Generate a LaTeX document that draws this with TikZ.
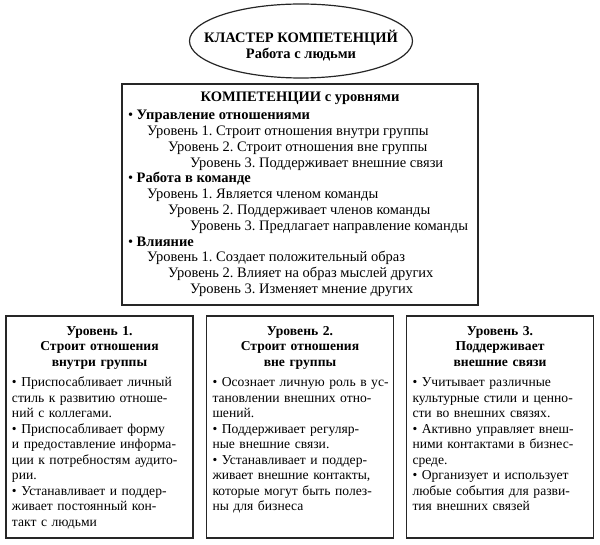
\documentclass[tikz,border=0pt]{standalone}
\usepackage{fontspec}
\setmainfont{Liberation Serif}
\usetikzlibrary{positioning,shapes.geometric}
\frenchspacing
\newlength{\bodywd}
\setlength{\bodywd}{175pt}
% one justified line of a level box
\newcommand{\jline}[1]{\makebox[\bodywd][s]{#1}\\}
\newcommand{\lvlhead}[1]{\makebox[\bodywd]{\bfseries #1}\\}

\begin{document}
\begin{tikzpicture}[x=1pt, y=-1pt,
    cluster/.style={ellipse, draw=black!85, line width=1.2pt, minimum width=223pt,
                    minimum height=74pt, inner sep=0pt},
    panel/.style={rectangle, draw=black!85, line width=1.5pt},
    lvltext/.style={text width=\bodywd, inner sep=0pt, align=left,
                    font=\fontsize{13.6}{15.5}\selectfont}
  ]
  \useasboundingbox (0,0) rectangle (600,545);

  \node[cluster] (clust) at (301,41) {};
  \node[align=center, font=\fontsize{14.5}{16}\selectfont\bfseries] (clustTxt)
        at (301,46) {КЛАСТЕР КОМПЕТЕНЦИЙ\\ Работа с людьми};

  \node[panel, minimum width=356pt, minimum height=221pt,
        inner sep=0pt, align=left, font=\fontsize{14.5}{15.8}\selectfont]
        (comp) at (300,194.5) {%
    \makebox[344pt]{\bfseries КОМПЕТЕНЦИИ с уровнями}\\[2pt]
    • \textbf{Управление отношениями}\\
    \hspace*{19pt}Уровень 1. Строит отношения внутри группы\\
    \hspace*{40pt}Уровень 2. Строит отношения вне группы\\
    \hspace*{62pt}Уровень 3. Поддерживает внешние связи\\
    • \textbf{Работа в команде}\\
    \hspace*{19pt}Уровень 1. Является членом команды\\
    \hspace*{40pt}Уровень 2. Поддерживает членов команды\\
    \hspace*{62pt}Уровень 3. Предлагает направление команды\\
    • \textbf{Влияние}\\
    \hspace*{19pt}Уровень 1. Создает положительный образ\\
    \hspace*{40pt}Уровень 2. Влияет на образ мыслей других\\
    \hspace*{62pt}Уровень 3. Изменяет мнение других};

  \node[panel, minimum width=187pt, minimum height=222pt] (lvlA) at (99.5,427) {};
  \node[panel, minimum width=187pt, minimum height=222pt] (lvlB) at (300,427) {};
  \node[panel, minimum width=187pt, minimum height=222pt] (lvlC) at (500,427) {};

  \node[lvltext, below=11pt of lvlA.north] (lvlAtxt) {%
    \lvlhead{Уровень 1.}
    \lvlhead{Строит отношения}
    \lvlhead{внутри группы}[5pt]
    \jline{• Приспосабливает личный}
    \jline{стиль к развитию отноше-}
    ний с коллегами.\\
    \jline{• Приспосабливает форму}
    \jline{и предоставление информа-}
    \jline{ции к потребностям аудито-}
    рии.\\
    \jline{• Устанавливает и поддер-}
    \jline{живает постоянный кон-}
    такт с людьми};

  \node[lvltext, below=11pt of lvlB.north] (lvlBtxt) {%
    \lvlhead{Уровень 2.}
    \lvlhead{Строит отношения}
    \lvlhead{вне группы}[5pt]
    \jline{• Осознает личную роль в ус-}
    \jline{тановлении внешних отно-}
    шений.\\
    \jline{• Поддерживает регуляр-}
    ные внешние связи.\\
    \jline{• Устанавливает и поддер-}
    \jline{живает внешние контакты,}
    \jline{которые могут быть полез-}
    ны для бизнеса};

  \node[lvltext, below=11pt of lvlC.north] (lvlCtxt) {%
    \lvlhead{Уровень 3.}
    \lvlhead{Поддерживает}
    \lvlhead{внешние связи}[5pt]
    \jline{• Учитывает различные}
    \jline{культурные стили и ценно-}
    сти во внешних связях.\\
    \jline{• Активно управляет внеш-}
    \jline{ними контактами в бизнес-}
    среде.\\
    \jline{• Организует и использует}
    \jline{любые события для разви-}
    тия внешних связей};
\end{tikzpicture}
\end{document}
